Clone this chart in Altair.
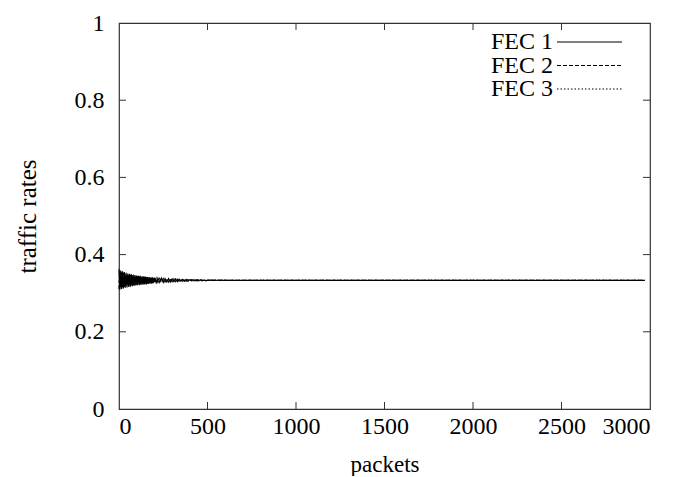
import altair as alt
import pandas as pd

series_names = ["FEC 1", "FEC 2", "FEC 3"]

x_osc = [0, 5, 10, 15, 20, 25, 30, 35, 40, 45, 50, 55, 60, 65, 70, 75, 80, 85, 90, 95,
         100, 105, 110, 115, 120, 125, 130, 135, 140, 145, 150, 155, 160, 165, 170,
         175, 180, 185, 190, 195, 200,
         210, 220, 230, 240, 250, 260, 270, 280, 290, 300, 310, 320, 330, 340, 350,
         360, 370, 380, 390, 400, 410, 420, 430, 440, 450, 460, 470, 480, 490, 500,
         510, 520, 530, 540, 550, 560, 570, 580, 590, 600]

fec1_osc = [0.362, 0.309, 0.359, 0.311, 0.357, 0.312, 0.355, 0.314, 0.353, 0.315,
            0.351, 0.316, 0.350, 0.317, 0.349, 0.318, 0.348, 0.319, 0.347, 0.320,
            0.346, 0.321, 0.345, 0.321, 0.345, 0.322, 0.344, 0.322, 0.344, 0.323,
            0.343, 0.323, 0.342, 0.324, 0.342, 0.325, 0.341, 0.325, 0.341, 0.326,
            0.340,
            0.327, 0.339, 0.328, 0.339, 0.328, 0.338, 0.329, 0.338, 0.329, 0.337,
            0.330, 0.337, 0.330, 0.336, 0.331, 0.336, 0.331, 0.336, 0.331, 0.335,
            0.332, 0.335, 0.332, 0.335, 0.332, 0.335, 0.332, 0.334, 0.332, 0.334,
            0.333, 0.334, 0.333, 0.334, 0.333, 0.334, 0.333, 0.334, 0.333, 0.3335]
fec2_osc = [0.311, 0.357, 0.313, 0.354, 0.315, 0.352, 0.316, 0.350, 0.318, 0.349,
            0.319, 0.348, 0.320, 0.347, 0.321, 0.346, 0.321, 0.345, 0.322, 0.344,
            0.322, 0.344, 0.323, 0.343, 0.323, 0.343, 0.324, 0.342, 0.324, 0.342,
            0.325, 0.341, 0.325, 0.341, 0.326, 0.340, 0.326, 0.340, 0.327, 0.339,
            0.327,
            0.339, 0.328, 0.338, 0.328, 0.338, 0.329, 0.337, 0.329, 0.337, 0.330,
            0.337, 0.330, 0.336, 0.331, 0.336, 0.331, 0.335, 0.331, 0.335, 0.332,
            0.335, 0.332, 0.335, 0.332, 0.334, 0.332, 0.334, 0.333, 0.334, 0.333,
            0.334, 0.333, 0.334, 0.333, 0.334, 0.333, 0.334, 0.333, 0.334, 0.3332]
fec3_osc = [0.328, 0.337, 0.329, 0.336, 0.329, 0.336, 0.330, 0.336, 0.330, 0.335,
            0.331, 0.335, 0.331, 0.335, 0.332, 0.335, 0.332, 0.335, 0.332, 0.334,
            0.332, 0.334, 0.333, 0.334, 0.333, 0.334, 0.333, 0.334, 0.333, 0.334,
            0.333, 0.334, 0.333, 0.334, 0.333, 0.334, 0.333, 0.334, 0.333, 0.334,
            0.333,
            0.334, 0.333, 0.334, 0.333, 0.334, 0.333, 0.334, 0.333, 0.334, 0.333,
            0.334, 0.333, 0.334, 0.333, 0.334, 0.333, 0.334, 0.333, 0.334, 0.333,
            0.334, 0.333, 0.334, 0.333, 0.334, 0.333, 0.334, 0.333, 0.334, 0.333,
            0.334, 0.333, 0.334, 0.333, 0.334, 0.333, 0.334, 0.333, 0.334, 0.3333]

x_tail = [700, 1000, 1500, 2000, 2500, 2970]
fec1_tail = [0.3334, 0.3333, 0.3333, 0.3333, 0.3333, 0.3333]
fec2_tail = [0.3333, 0.3333, 0.3333, 0.3333, 0.3333, 0.3333]
fec3_tail = [0.3333, 0.3333, 0.3333, 0.3333, 0.3333, 0.3333]

x_tick_values = [0, 500, 1000, 1500, 2000, 2500, 3000]
y_tick_values = [0, 0.2, 0.4, 0.6, 0.8, 1]
x_inner_ticks = [500, 1000, 1500, 2000, 2500]
y_inner_ticks = [0.2, 0.4, 0.6, 0.8]

rows = []
for name, osc, tail in zip(series_names, [fec1_osc, fec2_osc, fec3_osc],
                           [fec1_tail, fec2_tail, fec3_tail]):
    for xv, yv in zip(x_osc + x_tail, osc + tail):
        rows.append({"packets": xv, "rate": yv, "series": name})
df = pd.DataFrame(rows)

W, H = 531, 386
FONT = "Liberation Serif"
xscale = alt.Scale(domain=[0, 3000], nice=False, zero=False)
yscale = alt.Scale(domain=[0, 1], nice=False)
dashes = [[1, 0], [4, 2], [1.5, 2]]

xaxis = alt.Axis(values=x_tick_values, ticks=False, domain=False, grid=False,
                 labelPadding=5, titlePadding=15, titleFontSize=23, format="d")
yaxis = alt.Axis(values=y_tick_values, ticks=False, domain=False, grid=False,
                 labelPadding=15, titlePadding=34, titleFontSize=25,
                 labelExpr="datum.value == 0 ? '0' : datum.value == 1 ? '1' : format(datum.value, '.1f')")


def X(field):
    return alt.X(field, scale=xscale, title="packets", axis=xaxis)


def Y(field):
    return alt.Y(field, scale=yscale, title="traffic rates", axis=yaxis)


lines = alt.Chart(df).mark_line(color="black", strokeWidth=1.2).encode(
    x=X("packets:Q"),
    y=Y("rate:Q"),
    detail="series:N",
    strokeDash=alt.StrokeDash("series:N", scale=alt.Scale(domain=series_names, range=dashes),
                              legend=None),
)

xt = pd.DataFrame({"packets": x_inner_ticks})
yt = pd.DataFrame({"rate": y_inner_ticks})
tick_color = "#333333"
xb = alt.Chart(xt).mark_rule(color=tick_color, strokeWidth=1).encode(
    x=X("packets:Q"), y=alt.value(H), y2=alt.value(H - 7))
xtop = alt.Chart(xt).mark_rule(color=tick_color, strokeWidth=1).encode(
    x=X("packets:Q"), y=alt.value(0), y2=alt.value(7))
yl = alt.Chart(yt).mark_rule(color=tick_color, strokeWidth=1).encode(
    y=Y("rate:Q"), x=alt.value(0), x2=alt.value(7))
yr = alt.Chart(yt).mark_rule(color=tick_color, strokeWidth=1).encode(
    y=Y("rate:Q"), x=alt.value(W), x2=alt.value(W - 7))

legend_layers = []
for i, name in enumerate(series_names):
    ly = 19 + 23.5 * i
    ldf = pd.DataFrame({"label": [name]})
    legend_layers.append(
        alt.Chart(ldf).mark_text(font=FONT, fontSize=24, align="right", baseline="middle",
                                 color="black").encode(
            text="label:N", x=alt.value(434), y=alt.value(ly)))
    legend_layers.append(
        alt.Chart(ldf).mark_rule(color="black", strokeWidth=1.1, strokeDash=dashes[i]).encode(
            x=alt.value(438), x2=alt.value(503), y=alt.value(ly)))

chart = alt.layer(lines, xb, xtop, yl, yr, *legend_layers).properties(
    width=W, height=H,
    padding={"left": 7, "top": 3, "right": 0, "bottom": 0},
).configure_view(stroke="#333333", strokeWidth=1.2).configure_axis(
    labelFont=FONT, titleFont=FONT, labelFontSize=24, titleFontSize=24,
    titleFontWeight="normal", labelColor="black", titleColor="black",
)

chart.save("out.html", embed_options={"renderer": "svg", "actions": False})
